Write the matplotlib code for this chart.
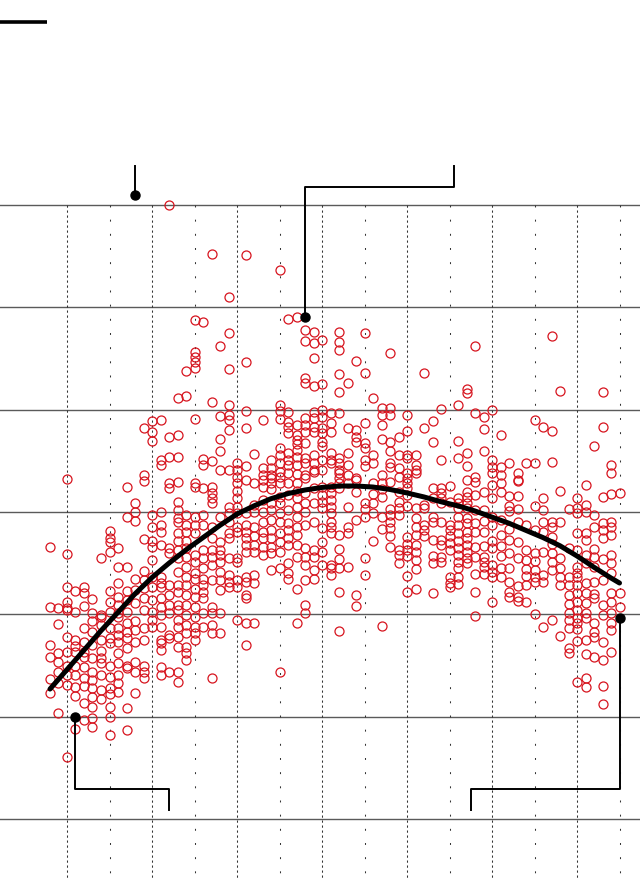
import matplotlib
matplotlib.use("Agg")
import matplotlib.pyplot as plt

ages = list(range(18, 86))

# observed values, one list per age
values_by_age = [
    [266, 207, 170, 158, 137, 123],
    [206, 191, 162, 153, 144, 133, 104],
    [332, 259, 227, 212, 206, 204, 178, 163, 150, 141, 131, 61],
    [223, 202, 175, 169, 163, 150, 141, 129, 120, 88],
    [227, 221, 208, 187, 173, 163, 158, 149, 138, 130, 113, 97],
    [215, 201, 193, 183, 170, 157, 144, 136, 128, 119, 109, 99, 90],
    [255, 199, 197, 190, 175, 164, 157, 152, 141, 126, 117],
    [281, 275, 271, 261, 223, 212, 202, 187, 177, 172, 150, 139, 128, 122, 109, 100, 82],
    [265, 246, 231, 217, 209, 201, 197, 187, 180, 173, 162, 152, 141, 133, 124],
    [324, 295, 246, 223, 214, 202, 192, 183, 177, 167, 150, 148, 108, 87],
    [309, 300, 291, 235, 224, 211, 193, 185, 173, 153, 144, 123],
    [382, 336, 330, 274, 242, 234, 226, 216, 204, 187, 175, 150, 144, 138],
    [389, 378, 369, 297, 285, 272, 266, 253, 236, 227, 214, 202, 194, 188],
    [390, 351, 346, 300, 287, 280, 268, 236, 231, 227, 216, 207, 199, 188, 175, 172, 165, 149, 141],
    [600, 373, 354, 328, 323, 265, 260, 229, 219, 209, 201, 180, 177, 144],
    [411, 375, 354, 329, 310, 302, 294, 290, 279, 272, 263, 255, 241, 229, 222, 209, 204, 194, 188, 178, 168, 144, 134],
    [438, 413, 297, 287, 280, 272, 265, 256, 246, 236, 229, 219, 209, 199, 190, 182, 168, 162, 155],
    [488, 456, 451, 447, 441, 391, 328, 324, 295, 287, 279, 258, 251, 240, 235, 225, 217, 207, 197, 188, 182, 175],
    [486, 352, 346, 323, 297, 287, 263, 255, 245, 235, 229, 222, 216, 201, 188],
    [552, 407, 350, 324, 319, 314, 309, 285, 275, 263, 256, 248, 234, 207, 201, 190, 182, 138],
    [462, 394, 371, 360, 341, 295, 271, 263, 258, 251, 241, 234, 224, 201, 182],
    [510, 475, 440, 405, 395, 390, 380, 341, 305, 299, 290, 279, 275, 255, 238, 232, 227],
    [348, 341, 334, 328, 321, 314, 305, 299, 285, 280, 255, 251, 234, 227, 194],
    [551, 447, 399, 382, 345, 331, 299, 287, 280, 275, 268, 261, 236, 232, 219, 216, 192, 170],
    [357, 328, 307, 300, 285, 277, 268, 261, 238, 231, 192],
    [390, 343, 336, 331, 324, 312, 300, 290, 280, 275, 266, 258],
    [351, 343, 336, 333, 328, 322, 309, 302, 292, 282, 275, 266, 260, 243],
    [536, 405, 399, 391, 363, 356, 348, 339, 334, 328, 315, 309, 299, 290, 279, 271, 261, 245, 144],
    [489, 398, 388, 383, 377, 358, 351, 346, 338, 328, 317, 302, 289, 282, 275, 268, 250, 240, 235],
    [491, 385, 375, 370, 366, 361, 354, 346, 337, 328, 321, 314, 305, 295, 285, 278, 268, 256, 225, 192],
    [478, 467, 431, 426, 392, 385, 378, 367, 353, 348, 336, 333, 319, 309, 300, 287, 265, 256, 248, 234, 209, 201],
    [476, 465, 450, 423, 398, 392, 383, 378, 356, 348, 341, 339, 323, 309, 290, 263, 256, 243, 235],
    [468, 425, 400, 393, 382, 377, 368, 364, 351, 341, 324, 317, 310, 304, 284, 271, 261, 248],
    [397, 387, 378, 358, 351, 348, 324, 319, 312, 305, 299, 290, 285, 279, 248, 245, 238],
    [476, 466, 458, 435, 417, 397, 353, 348, 341, 338, 333, 328, 323, 278, 264, 254, 245, 222, 184],
    [426, 382, 358, 346, 336, 328, 305, 285, 279, 246],
    [448, 380, 373, 368, 333, 331, 320, 292, 219, 208],
    [475, 436, 387, 367, 363, 351, 345, 309, 303, 295, 255, 238],
    [411, 356, 348, 328, 318, 309, 299, 272],
    [402, 395, 385, 371, 336, 328, 322, 315, 295, 283, 189],
    [455, 402, 395, 368, 360, 348, 344, 329, 303, 297, 290, 284, 277, 266],
    [373, 356, 343, 334, 320, 310, 304, 297, 263, 258, 250],
    [395, 379, 356, 353, 338, 333, 328, 323, 317, 306, 276, 269, 263, 257, 237, 222],
    [356, 346, 341, 338, 304, 294, 285, 278, 268, 261, 253, 244, 225],
    [436, 382, 307, 304, 287, 282, 277],
    [389, 368, 323, 314, 295, 290, 273, 257, 250, 221],
    [401, 351, 323, 319, 314, 309, 290, 273, 268, 256, 251],
    [325, 310, 287, 282, 277, 270, 263, 236, 231, 227],
    [405, 369, 353, 314, 309, 304, 295, 287, 279, 272, 265, 258, 251, 245, 236, 230],
    [420, 416, 358, 345, 331, 320, 315, 309, 304, 294, 289, 280, 275, 268, 261, 255, 250],
    [462, 397, 334, 329, 317, 302, 289, 280, 266, 256, 239, 222, 198],
    [393, 381, 360, 320, 302, 291, 280, 267, 256, 251, 246, 239],
    [400, 351, 344, 338, 326, 314, 295, 287, 272, 265, 248, 241, 236, 212],
    [375, 344, 336, 328, 320, 292, 278, 267, 257, 245, 236],
    [348, 316, 306, 301, 283, 273, 260, 245, 232, 222, 217],
    [338, 331, 330, 316, 303, 290, 271, 255, 228, 217, 213],
    [348, 287, 263, 253, 244, 237, 229, 212],
    [390, 348, 306, 282, 260, 252, 243, 236, 232, 200],
    [383, 314, 302, 290, 280, 261, 238, 232, 188],
    [472, 379, 349, 290, 285, 276, 269, 260, 251, 243, 194],
    [418, 321, 290, 255, 245, 236, 229, 179],
    [303, 265, 236, 229, 219, 210, 201, 194, 187, 167, 162],
    [314, 304, 299, 279, 263, 246, 240, 236, 229, 221, 212, 204, 196, 192, 186, 174, 134],
    [326, 307, 300, 279, 273, 258, 250, 231, 221, 211, 201, 196, 175, 161, 138, 129],
    [364, 297, 285, 264, 256, 246, 232, 220, 216, 192, 183, 178, 158],
    [417, 383, 315, 289, 282, 275, 254, 234, 209, 199, 173, 155, 130, 112],
    [346, 338, 318, 290, 285, 278, 258, 250, 240, 221, 212, 201, 192, 185, 163],
    [319, 221, 207],
]

# fitted curve
curve_ages = [18, 20, 22, 24, 26, 28, 30, 32, 34, 36, 38, 40, 42, 44, 46, 48, 50, 52,
              54, 56, 58, 60, 62, 64, 66, 68, 70, 72, 74, 76, 78, 80, 82, 84, 85]
curve_values = [127, 146, 165, 184, 202, 220, 236, 250, 263, 275, 287, 298, 306, 313, 318, 321.5, 324, 325.4,
                325.4, 324.4, 322, 318.6, 314.7, 310, 306, 301, 295, 289, 282, 275, 267, 257, 246, 235.5, 230.6]

# highlighted points
marked_ages = [28, 48, 21, 85]
marked_values = [610, 491, 100, 196]

grid_values = [0, 100, 200, 300, 400, 500, 600]
major_ages = [20, 30, 40, 50, 60, 70, 80]
minor_ages = [25, 35, 45, 55, 65, 75, 85]

plt.rcParams["lines.scale_dashes"] = False

fig = plt.figure(figsize=(6.4, 8.8), dpi=100)
ax = fig.add_axes([0, 0, 1, 1])
ax.set_xlim(12.118, 87.41)
ax.set_ylim(-59.6, 800.3)
ax.axis("off")

for value in grid_values:
    ax.axhline(value, color="#5a5a5a", lw=1.0, zorder=1)
for age in major_ages:
    ax.plot([age, age], [600, -59.6], color="#333333", lw=0.75, ls=(0, (1.6, 2.0)), zorder=1)
for age in minor_ages:
    ax.plot([age, age], [600, -59.6], color="#333333", lw=0.75, ls=(0, (1.4, 8.8)), zorder=1)

for age, values in zip(ages, values_by_age):
    ax.plot([age] * len(values), values, ls="none", marker="o", ms=6.5, mfc="none",
            mec="#d7141e", mew=0.9, zorder=2)

ax.plot(curve_ages, curve_values, color="black", lw=3.6, solid_capstyle="round", zorder=3)

# leader lines from the highlighted points to their (empty) labels
ax.plot([28, 28], [610, 638], color="black", lw=1.4, zorder=4)
ax.plot([48, 48, 65.5, 65.5], [491, 618, 618, 638], color="black", lw=1.4, zorder=4)
ax.plot([21, 21, 32, 32], [100, 29, 29, 9], color="black", lw=1.4, zorder=4)
ax.plot([85, 85, 67.5, 67.5], [196, 29, 29, 9], color="black", lw=1.4, zorder=4)
ax.plot(marked_ages, marked_values, ls="none", marker="o", ms=6.5, color="black", zorder=5)

# legend key, top left
ax.plot([12.118, 17.65], [778.5, 778.5], color="black", lw=2.6, solid_capstyle="butt", zorder=4)

fig.savefig("out.png", dpi=100)
